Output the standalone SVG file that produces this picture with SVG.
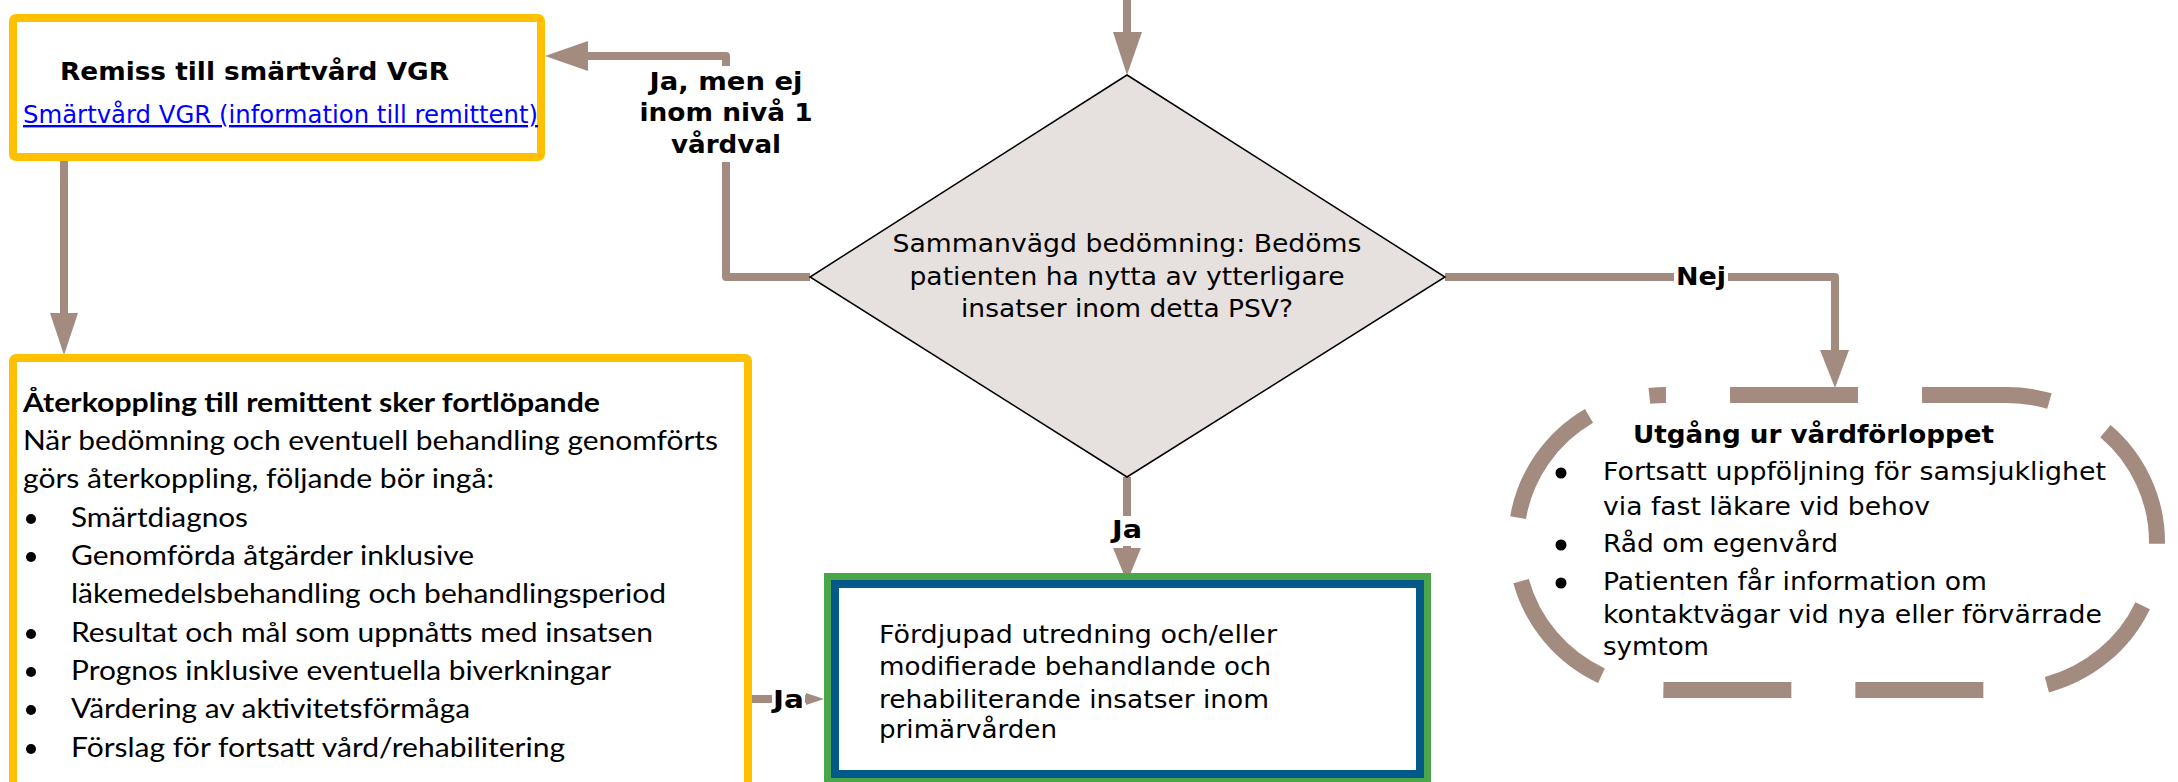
<svg xmlns="http://www.w3.org/2000/svg" width="2178" height="782" viewBox="0 0 2178 782">
<style>
.conn{fill:none;stroke:#A48B80;stroke-width:8;stroke-linejoin:round}
.ah{fill:#A48B80}
.bg{fill:#FFFFFF}
.t{font-family:"DejaVu Sans",Verdana,sans-serif;font-size:24px;fill:#000}
.c{font-family:Lato,"Liberation Sans",sans-serif;font-size:26px;fill:#000}
.b{font-weight:bold}
.yel{fill:#FFFFFF;stroke:#FFC000;stroke-width:8}
.dot{fill:#000}
</style>
<rect width="2178" height="782" fill="#FFFFFF"/>
<g id="connectors">
  <line class="conn" x1="1127" y1="0" x2="1127" y2="34"/>
  <polygon class="ah" points="1113,32 1142,32 1127,75"/>
  <path class="conn" d="M810,277 H726 V56 H587"/>
  <polygon class="ah" points="588,41 588,71 545,56"/>
  <rect class="bg" x="636" y="66" width="182" height="96"/>
  <text class="t b" text-anchor="middle" x="726" y="90" textLength="153" lengthAdjust="spacingAndGlyphs">Ja, men ej</text>
  <text class="t b" text-anchor="middle" x="726" y="121" textLength="173" lengthAdjust="spacingAndGlyphs">inom nivå 1</text>
  <text class="t b" text-anchor="middle" x="726" y="153" textLength="110" lengthAdjust="spacingAndGlyphs">vårdval</text>
  <path class="conn" d="M1445,277 H1835 V352"/>
  <polygon class="ah" points="1820,350 1849,350 1835,388"/>
  <rect class="bg" x="1674" y="262" width="54" height="30"/>
  <text class="t b" text-anchor="middle" x="1701" y="285" textLength="50" lengthAdjust="spacingAndGlyphs">Nej</text>
  <line class="conn" x1="1127" y1="477" x2="1127" y2="550"/>
  <polygon class="ah" points="1113,548 1141,548 1127,582"/>
  <rect class="bg" x="1108" y="516" width="38" height="30"/>
  <text class="t b" text-anchor="middle" x="1127" y="538" textLength="30" lengthAdjust="spacingAndGlyphs">Ja</text>
  <line class="conn" x1="64" y1="161" x2="64" y2="316"/>
  <polygon class="ah" points="50,313 78,313 64,355"/>
  <line class="conn" x1="752" y1="699" x2="808" y2="699"/>
  <polygon class="ah" points="806,693 806,705 824,699"/>
  <rect class="bg" x="772" y="684" width="33" height="30"/>
  <text class="t b" x="773" y="708" font-size="25" textLength="31" lengthAdjust="spacingAndGlyphs">Ja</text>
</g>
<g id="node-remiss">
  <rect class="yel" x="13" y="18" width="528" height="139" rx="3"/>
  <text class="t b" x="60" y="80" font-size="25" textLength="389" lengthAdjust="spacingAndGlyphs">Remiss till smärtvård VGR</text>
  <text class="t" x="23" y="123" fill="#0000FF" style="fill:#0000FF" text-decoration="underline" textLength="515" lengthAdjust="spacingAndGlyphs">Smärtvård VGR (information till remittent)</text>
</g>
<g id="node-aterkoppling">
  <rect class="yel" x="13" y="358" width="735" height="460" rx="3"/>
  <text class="c b" x="23" y="412" textLength="577" lengthAdjust="spacingAndGlyphs">Återkoppling till remittent sker fortlöpande</text>
  <text class="c" x="23" y="450" textLength="695" lengthAdjust="spacingAndGlyphs">När bedömning och eventuell behandling genomförts</text>
  <text class="c" x="23" y="488" textLength="471" lengthAdjust="spacingAndGlyphs">görs återkoppling, följande bör ingå:</text>
  <circle class="dot" cx="31" cy="519" r="5"/>
  <text class="c" x="71" y="527" textLength="177" lengthAdjust="spacingAndGlyphs">Smärtdiagnos</text>
  <circle class="dot" cx="31" cy="557" r="5"/>
  <text class="c" x="71" y="565" textLength="403" lengthAdjust="spacingAndGlyphs">Genomförda åtgärder inklusive</text>
  <text class="c" x="71" y="603" textLength="595" lengthAdjust="spacingAndGlyphs">läkemedelsbehandling och behandlingsperiod</text>
  <circle class="dot" cx="31" cy="634" r="5"/>
  <text class="c" x="71" y="642" textLength="582" lengthAdjust="spacingAndGlyphs">Resultat och mål som uppnåtts med insatsen</text>
  <circle class="dot" cx="31" cy="672" r="5"/>
  <text class="c" x="71" y="680" textLength="540" lengthAdjust="spacingAndGlyphs">Prognos inklusive eventuella biverkningar</text>
  <circle class="dot" cx="31" cy="710" r="5"/>
  <text class="c" x="71" y="718" textLength="399" lengthAdjust="spacingAndGlyphs">Värdering av aktivitetsförmåga</text>
  <circle class="dot" cx="31" cy="749" r="5"/>
  <text class="c" x="71" y="757" textLength="494" lengthAdjust="spacingAndGlyphs">Förslag för fortsatt vård/rehabilitering</text>
</g>
<g id="node-bedomning">
  <polygon points="1127,75 1445,277 1127,477 810,277" fill="#E6E1DE" stroke="#000000" stroke-width="1.5"/>
  <text class="t" text-anchor="middle" x="1127" y="252" textLength="469" lengthAdjust="spacingAndGlyphs">Sammanvägd bedömning: Bedöms</text>
  <text class="t" text-anchor="middle" x="1127" y="285" textLength="435" lengthAdjust="spacingAndGlyphs">patienten ha nytta av ytterligare</text>
  <text class="t" text-anchor="middle" x="1127" y="317" textLength="332" lengthAdjust="spacingAndGlyphs">insatser inom detta PSV?</text>
</g>
<g id="node-fordjupad">
  <rect x="824" y="573" width="607" height="209" fill="#4BA54B"/>
  <rect x="831" y="580" width="593" height="198" fill="#035A89"/>
  <rect x="839" y="588" width="577" height="182" fill="#FFFFFF"/>
  <text class="t" x="879" y="643" textLength="398" lengthAdjust="spacingAndGlyphs">Fördjupad utredning och/eller</text>
  <text class="t" x="879" y="675" textLength="392" lengthAdjust="spacingAndGlyphs">modifierade behandlande och</text>
  <text class="t" x="879" y="708" textLength="390" lengthAdjust="spacingAndGlyphs">rehabiliterande insatser inom</text>
  <text class="t" x="879" y="738" textLength="178" lengthAdjust="spacingAndGlyphs">primärvården</text>
</g>
<g id="node-utgang">
  <rect x="1516" y="395" width="641" height="295" rx="150" ry="147" fill="#FFFFFF" stroke="#A48B80" stroke-width="16" stroke-dasharray="128 64" stroke-dashoffset="128"/>
  <text class="t b" x="1633" y="443" textLength="361" lengthAdjust="spacingAndGlyphs">Utgång ur vårdförloppet</text>
  <circle class="dot" cx="1561" cy="473" r="5.5"/>
  <text class="t" x="1603" y="480" textLength="503" lengthAdjust="spacingAndGlyphs">Fortsatt uppföljning för samsjuklighet</text>
  <text class="t" x="1603" y="515" textLength="327" lengthAdjust="spacingAndGlyphs">via fast läkare vid behov</text>
  <circle class="dot" cx="1561" cy="545" r="5.5"/>
  <text class="t" x="1603" y="552" textLength="235" lengthAdjust="spacingAndGlyphs">Råd om egenvård</text>
  <circle class="dot" cx="1561" cy="583" r="5.5"/>
  <text class="t" x="1603" y="590" textLength="384" lengthAdjust="spacingAndGlyphs">Patienten får information om</text>
  <text class="t" x="1603" y="623" textLength="499" lengthAdjust="spacingAndGlyphs">kontaktvägar vid nya eller förvärrade</text>
  <text class="t" x="1603" y="655" textLength="106" lengthAdjust="spacingAndGlyphs">symtom</text>
</g>
</svg>
